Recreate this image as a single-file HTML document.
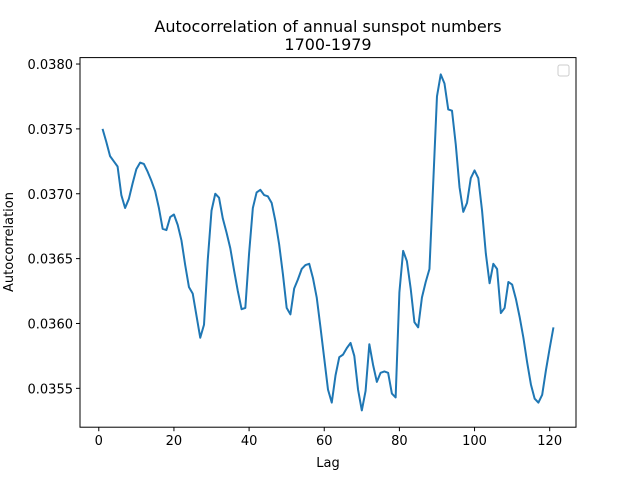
<!DOCTYPE html>
<html><head><meta charset="utf-8"><style>
body{margin:0;background:#fff;}
svg text{font-family:"DejaVu Sans","Liberation Sans",sans-serif;fill:#000;}
</style></head><body>
<svg id="chart" width="640" height="480">
<text x="328" y="32" font-size="16" text-anchor="middle">Autocorrelation of annual sunspot numbers</text>
<text x="328" y="50" font-size="16" text-anchor="middle">1700-1979</text>
<g id="xticks"></g>
<g id="yticks"></g>
<path id="line" fill="none" stroke="#1f77b4" stroke-width="2" stroke-linejoin="round"/>
<rect x="80" y="57.6" width="496" height="369.6" fill="none" stroke="#000" stroke-width="1"/>
<rect x="558" y="65" width="11" height="11" rx="2" fill="#fff" stroke="#ccc"/>
<text x="328" y="467" font-size="13" text-anchor="middle">Lag</text>
<text transform="translate(13,242) rotate(-90)" font-size="13" text-anchor="middle">Autocorrelation</text>
</svg>
<script>
const values = [0.03750,0.03740,0.03729,0.03725,0.03721,0.03699,0.03689,0.03696,0.03708,0.03719,
0.03724,0.03723,0.03717,0.03710,0.03702,0.03689,0.03673,0.03672,0.03682,0.03684,
0.03676,0.03664,0.03645,0.03628,0.03623,0.03606,0.03589,0.03599,0.03649,0.03687,
0.03700,0.03697,0.03681,0.03670,0.03658,0.03641,0.03625,0.03611,0.03612,0.03654,
0.03689,0.03701,0.03703,0.03699,0.03698,0.03693,0.03679,0.03661,0.03638,0.03612,
0.03607,0.03627,0.03634,0.03642,0.03645,0.03646,0.03635,0.03620,0.03597,0.03573,
0.03549,0.03539,0.03560,0.03574,0.03576,0.03581,0.03585,0.03575,0.03549,0.03533,
0.03548,0.03584,0.03568,0.03555,0.03562,0.03563,0.03562,0.03546,0.03543,0.03624,
0.03656,0.03648,0.03627,0.03601,0.03597,0.03620,0.03632,0.03642,0.03708,0.03775,
0.03792,0.03785,0.03765,0.03764,0.03738,0.03705,0.03686,0.03693,0.03712,0.03718,
0.03712,0.03687,0.03654,0.03631,0.03646,0.03642,0.03608,0.03612,0.03632,0.03630,
0.03619,0.03605,0.03589,0.03570,0.03553,0.03542,0.03539,0.03545,0.03564,0.03581,0.03597];
const lags = values.map((v,i)=>i+1);
const xTickLabels = [0,20,40,60,80,100,120];
const yTickLabels = ["0.0355","0.0360","0.0365","0.0370","0.0375","0.0380"];

const NS="http://www.w3.org/2000/svg";
const L=80,R=576,T=57.6,B=427.2;
const xmin0=Math.min(...lags),xmax0=Math.max(...lags),xp=(xmax0-xmin0)*0.05;
const xmin=xmin0-xp,xmax=xmax0+xp;
const ymin0=Math.min(...values),ymax0=Math.max(...values),yp=(ymax0-ymin0)*0.05;
const ymin=ymin0-yp,ymax=ymax0+yp;
const sx=v=>L+(v-xmin)/(xmax-xmin)*(R-L);
const sy=v=>B-(v-ymin)/(ymax-ymin)*(B-T);
document.getElementById('line').setAttribute('d',values.map((v,i)=>(i?'L':'M')+sx(lags[i]).toFixed(2)+' '+sy(v).toFixed(2)).join(' '));
const gx=document.getElementById('xticks');
xTickLabels.forEach(t=>{
 const x=sx(t);
 const ln=document.createElementNS(NS,'line');
 ln.setAttribute('x1',x);ln.setAttribute('x2',x);ln.setAttribute('y1',B);ln.setAttribute('y2',B+4);ln.setAttribute('stroke','#000');
 
 
 gx.appendChild(ln);
 const tx=document.createElementNS(NS,'text');
 tx.setAttribute('x',x);tx.setAttribute('y',B+18);tx.setAttribute('font-size','13');tx.setAttribute('text-anchor','middle');
 tx.textContent=t;
 
 
 gx.appendChild(tx);
});
const gy=document.getElementById('yticks');
yTickLabels.forEach(t=>{
 const y=sy(parseFloat(t));
 const ln=document.createElementNS(NS,'line');
 ln.setAttribute('x1',L-4);ln.setAttribute('x2',L);ln.setAttribute('y1',y);ln.setAttribute('y2',y);ln.setAttribute('stroke','#000');
 
 
 gy.appendChild(ln);
 const tx=document.createElementNS(NS,'text');
 tx.setAttribute('x',L-7);tx.setAttribute('y',y+5);tx.setAttribute('font-size','13');tx.setAttribute('text-anchor','end');
 tx.textContent=t;
 
 
 gy.appendChild(tx);
});
</script>
</body></html>
